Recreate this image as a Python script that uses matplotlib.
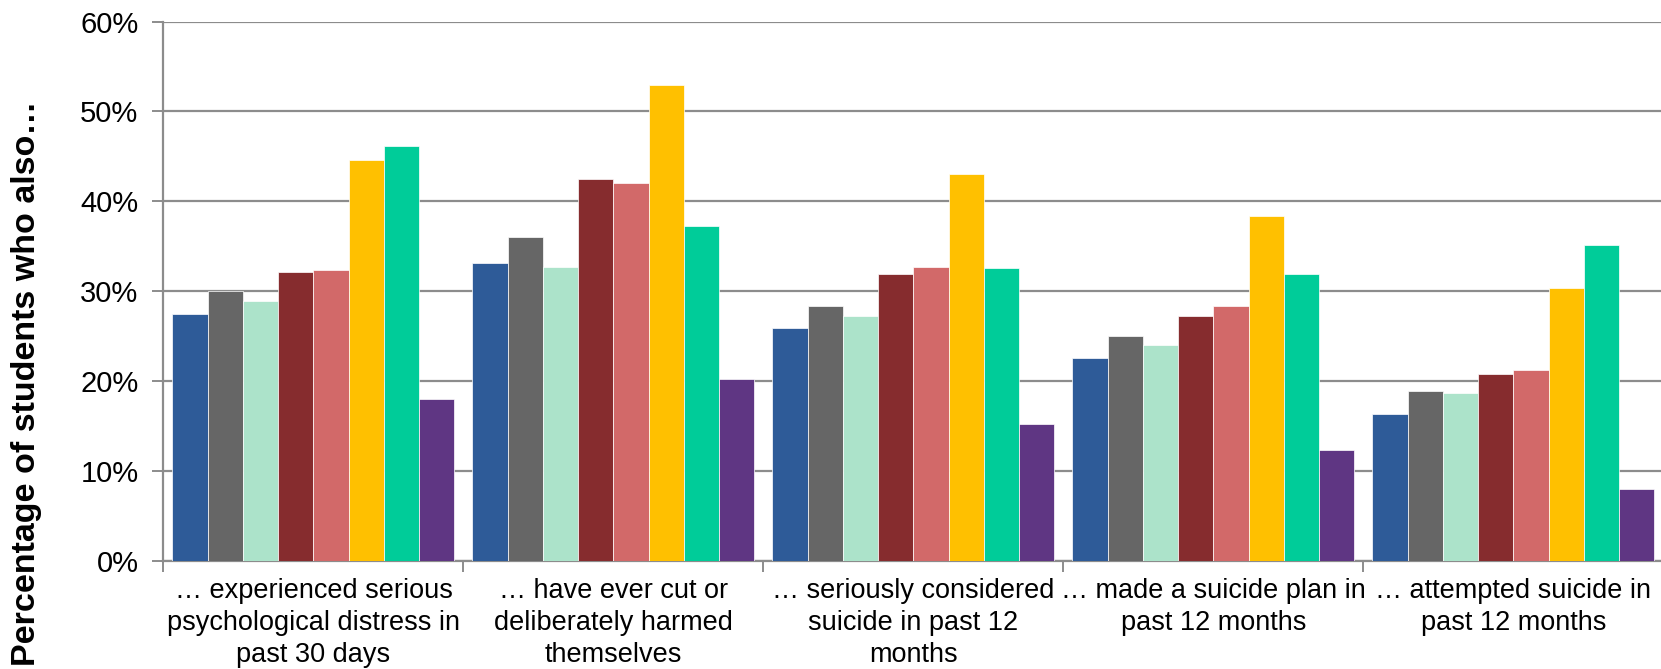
import numpy as np
import matplotlib
matplotlib.use('Agg')
import matplotlib.pyplot as plt
from matplotlib.ticker import PercentFormatter

plt.rcParams['font.family'] = ['Liberation Sans', 'DejaVu Sans']

categorias = ['\u2026 experienced serious\npsychological distress in\npast 30 days',
              '\u2026 have ever cut or\ndeliberately harmed\nthemselves',
              '\u2026 seriously considered\nsuicide in past 12\nmonths',
              '\u2026 made a suicide plan in\npast 12 months',
              '\u2026 attempted suicide in\npast 12 months']

# una lista por serie (8 series), valores en %
serie1 = [27.5, 33.1, 25.9, 22.6, 16.3]
serie2 = [30.0, 36.0, 28.4, 25.0, 18.9]
serie3 = [28.9, 32.7, 27.2, 24.0, 18.7]
serie4 = [32.2, 42.5, 31.9, 27.2, 20.8]
serie5 = [32.4, 42.0, 32.7, 28.4, 21.3]
serie6 = [44.6, 52.9, 43.0, 38.4, 30.4]
serie7 = [46.2, 37.3, 32.6, 31.9, 35.2]
serie8 = [18.0, 20.2, 15.2, 12.4, 8.0]

series = [serie1, serie2, serie3, serie4, serie5, serie6, serie7, serie8]
colores = ['#2E5B98', '#666666', '#ACE3CA', '#862C2E',
           '#D26969', '#FFC000', '#00CC99', '#5F3683']

fig = plt.figure(figsize=(16.61, 6.69), dpi=100)
ax = fig.add_axes([0.0984, 0.1614, 0.9031, 0.8064])

x = np.arange(len(categorias))
ancho = 0.94 / len(series)
for i in range(len(series)):
    pos = x - 0.47 + ancho * (i + 0.5)
    ax.bar(pos, series[i], ancho, color=colores[i], edgecolor='#FFFFFF',
           linewidth=0.5, zorder=3)

gris = '#8C8C8C'
ax.set_xlim(-0.5, len(categorias) - 0.5)
ax.set_ylim(0, 60)
ax.set_yticks(np.arange(0, 61, 10))
ax.yaxis.set_major_formatter(PercentFormatter(decimals=0))
ax.grid(axis='y', color=gris, linewidth=1.6, zorder=0)

ax.set_xticks(x)
ax.set_xticklabels(categorias, fontsize=19.5, linespacing=1.3)
ax.set_xticks(np.arange(-0.5, len(categorias)), minor=True)
ax.tick_params(axis='x', which='major', length=0, pad=12)
ax.tick_params(axis='x', which='minor', length=8, width=1.4, color=gris)
ax.tick_params(axis='y', length=8, width=1.4, color=gris, labelsize=21, pad=10)

for lado in ['top', 'right']:
    ax.spines[lado].set_visible(False)
for lado in ['left', 'bottom']:
    ax.spines[lado].set_color(gris)
    ax.spines[lado].set_linewidth(1.6)

ax.set_ylabel('Percentage of students who also\u2026', fontsize=24.5,
              fontweight='bold')
ax.yaxis.set_label_coords(-0.081, 0.33)

fig.savefig('out.png', dpi=100)
